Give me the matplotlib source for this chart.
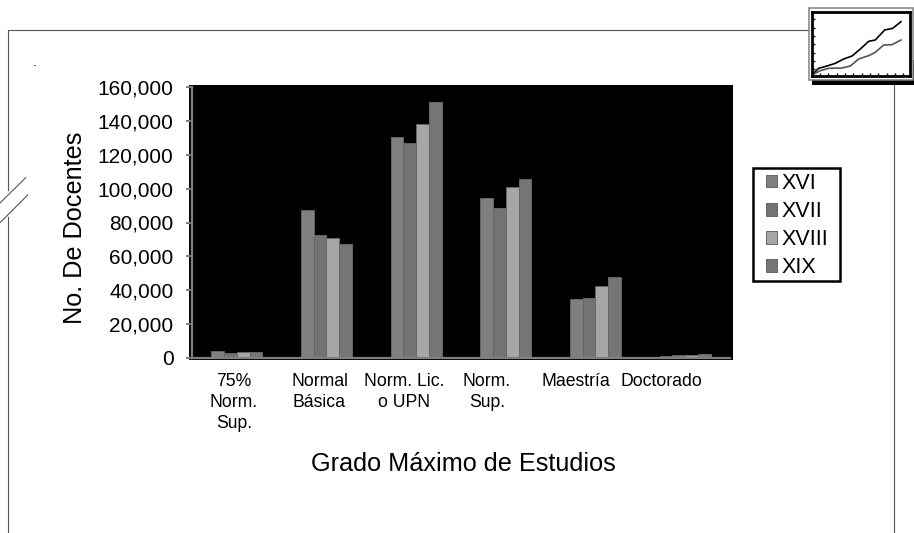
import matplotlib
matplotlib.use("Agg")
import matplotlib.pyplot as plt
import numpy as np
from matplotlib.lines import Line2D
from matplotlib.patches import Rectangle
from matplotlib.transforms import ScaledTranslation

W, H = 914, 533
plt.rcParams['font.family'] = ['Liberation Sans', 'DejaVu Sans']

categories = ["75%\nNorm.\nSup.", "Normal\nBásica", "Norm. Lic.\no UPN", "Norm.\nSup.", "Maestría", "Doctorado"]
series_names = ["XVI", "XVII", "XVIII", "XIX"]
xvi = [3700, 87200, 130400, 94300, 34700, 1200]
xvii = [2800, 72400, 126800, 88400, 35300, 1400]
xviii = [3400, 70800, 138000, 101000, 42200, 1800]
xix = [3200, 67300, 151300, 105900, 47900, 2400]
colors = ["#7f7f7f", "#737373", "#a6a6a6", "#757575"]
y_ticks = list(range(0, 160001, 20000))

icon_x = [0, 20, 45, 70, 95, 120, 145, 170, 190, 218, 242, 267]
icon_top = [3, 23, 30, 38, 51, 60, 81, 104, 108, 138, 143, 163]
icon_x2 = [0, 25, 50, 90, 115, 140, 170, 190, 215, 240, 267]
icon_low = [3, 16, 23, 24, 30, 51, 61, 71, 93, 94, 108]


def fx(p):
    return p / W


def fy(p):
    return 1 - p / H


def rect(x0, y0, x1, y1, **kw):
    fig.add_artist(Rectangle((fx(x0), fy(y1)), (x1 - x0) / W, (y1 - y0) / H,
                             transform=fig.transFigure, **kw))


def line(xs, ys, color="#555555", lw=0.8):
    fig.add_artist(Line2D([fx(v) for v in xs], [fy(v) for v in ys],
                          transform=fig.transFigure, color=color, lw=lw))


fig = plt.figure(figsize=(W / 100, H / 100), dpi=100, facecolor="white")

# page frame
line([8, 8], [30, 190])
line([8, 8], [217, 533])
line([8, 809], [30, 30])
line([894, 894], [84, 533])
line([0, 25.7], [203, 177.7])
line([0, 27.7], [222.7, 195])
line([34, 35], [65, 65], color="#444444", lw=0.6)

# black plot panel
rect(189, 85, 733, 360, facecolor="black", edgecolor="none", zorder=1)

x0, x1, y_top, y_bot = 192, 730, 87.3, 357.7
ax = fig.add_axes([fx(x0), fy(y_bot), (x1 - x0) / W, (y_bot - y_top) / H], zorder=2)
ax.set_facecolor("black")
x = np.arange(len(categories))
width = 0.1428
for i, (vals, name, c) in enumerate(zip([xvi, xvii, xviii, xix], series_names, colors)):
    ax.bar(x + (i - 1.5) * width, vals, width, color=c, edgecolor="#666666", linewidth=0.7, label=name)
ax.set_xlim(-0.5, 5.5)
ax.set_ylim(0, 160000)
for s in ("top", "right"):
    ax.spines[s].set_visible(False)
for s in ("left", "bottom"):
    ax.spines[s].set_color("#7f7f7f")
    ax.spines[s].set_linewidth(1.6)
ax.set_yticks(y_ticks)
ax.set_yticklabels([f"{v:,}" for v in y_ticks], fontsize=15, color="black")
ax.tick_params(axis="y", length=4.3, width=1.4, color="#7f7f7f", pad=9)
ax.set_xticks(x)
ax.set_xticklabels(categories, fontsize=12.7, linespacing=1.3, va="top")
ax.tick_params(axis="x", length=0, pad=11)
label_shift_px = [-3, -7, -12, -19, -20, -24]
for lab, d in zip(ax.get_xticklabels(), label_shift_px):
    lab.set_transform(lab.get_transform() + ScaledTranslation(d / 100, 0, fig.dpi_scale_trans))

ax.set_xlabel("Grado Máximo de Estudios", fontsize=18.2)
ax.xaxis.set_label_coords(fx(463.5), fy(464), transform=fig.transFigure)
ax.xaxis.label.set_va("center")
ax.set_ylabel("No. De Docentes", fontsize=18.2)
ax.yaxis.set_label_coords(fx(75), fy(228), transform=fig.transFigure)
ax.yaxis.label.set_va("center")

# legend
rect(753, 167.5, 840, 281, facecolor="white", edgecolor="black", lw=1.8, zorder=4)
leg = fig.legend(loc="center", bbox_to_anchor=(fx(797), fy(225.5)), fontsize=15.5, frameon=False,
                 handlelength=0.51, handleheight=0.51, handletextpad=0.23, labelspacing=0.33,
                 borderpad=0, borderaxespad=0)
leg.set_zorder(5)

# chart icon
rect(812, 60, 913.5, 85, facecolor="black", edgecolor="none", zorder=6)
rect(809, 8, 912.7, 80, facecolor="white", edgecolor="#808080", lw=1.1, zorder=7)
ic = fig.add_axes([fx(812), fy(76), 98 / W, 64 / H], zorder=8)
ic.plot(icon_x, icon_top, color="black", lw=1.2)
ic.plot(icon_x2, icon_low, color="#555555", lw=1.2)
ic.set_xlim(0, 294)
ic.set_ylim(0, 192)
for s in ic.spines.values():
    s.set_linewidth(2)
ic.set_xticks(range(24, 290, 25))
ic.set_yticks(range(20, 180, 25))
ic.tick_params(direction="in", length=2.5, width=1, labelbottom=False, labelleft=False)

fig.savefig("out.png", dpi=100)
